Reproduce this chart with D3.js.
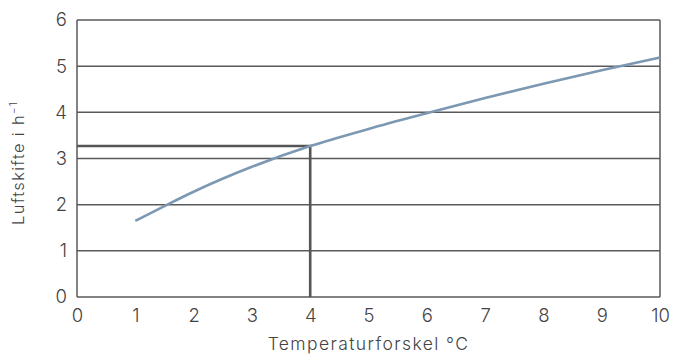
<!DOCTYPE html>
<html>
<head>
<meta charset="utf-8">
<script src="https://cdn.jsdelivr.net/npm/d3@7"></script>
<style>
  body { margin: 0; background: #fff; }
  text { font-family: Inter, "Open Sans", sans-serif; font-weight: 300; fill: #444; }
</style>
</head>
<body>
<svg id="chart"></svg>
<script>
let svgWidth = 673;
let svgHeight = 354;

// Data
let tempDiff = [1, 1.5, 2, 3, 4, 5, 6, 7, 8, 9, 10];
let airChange = [1.65, 1.97, 2.28, 2.82, 3.27, 3.64, 3.98, 4.31, 4.62, 4.91, 5.19];
let markX = 4;
let markY = 3.27;
let xTicks = [0, 1, 2, 3, 4, 5, 6, 7, 8, 9, 10];
let yTicks = [0, 1, 2, 3, 4, 5, 6];

let margin = {left: 77, right: 13, top: 20, bottom: 57};

let svg = d3.select('#chart')
            .attr('width', svgWidth)
            .attr('height', svgHeight);

let x = d3.scaleLinear().domain([0, 10]).range([margin.left, svgWidth - margin.right]);
let y = d3.scaleLinear().domain([0, 6]).range([svgHeight - margin.bottom, margin.top]);

// horizontal grid lines
svg.selectAll('.grid')
   .data(yTicks)
   .join('line')
   .attr('x1', x(0))
   .attr('x2', x(10))
   .attr('y1', d => y(d))
   .attr('y2', d => y(d))
   .attr('stroke', '#5a5a5a')
   .attr('stroke-width', 1.5);

// left and right frame
svg.selectAll('.frame')
   .data([0, 10])
   .join('line')
   .attr('x1', d => x(d))
   .attr('x2', d => x(d))
   .attr('y1', y(0))
   .attr('y2', y(6))
   .attr('stroke', '#5a5a5a')
   .attr('stroke-width', 1.5);

// axes (labels only)
let xAxis = svg.append('g')
   .attr('transform', `translate(0,${y(0)})`)
   .call(d3.axisBottom(x).tickValues(xTicks).tickSize(0).tickPadding(12).tickFormat(d3.format('d')));
let yAxis = svg.append('g')
   .attr('transform', `translate(${x(0)},0)`)
   .call(d3.axisLeft(y).tickValues(yTicks).tickSize(0).tickPadding(10).tickFormat(d3.format('d')));
[xAxis, yAxis].forEach(a => {
  a.select('.domain').remove();
  a.selectAll('text')
   .style('font-size', '18.5px')
   .style('font-family', 'Inter, sans-serif')
   .style('font-weight', 300)
   .attr('fill', '#444');
});

// reading lines at 4 °C
svg.append('path')
   .attr('d', d3.line()([[x(0), y(markY)], [x(markX), y(markY)], [x(markX), y(0)]]))
   .attr('fill', 'none')
   .attr('stroke', '#555')
   .attr('stroke-width', 2.6);

// curve
let line = d3.line()
             .x((d, i) => x(tempDiff[i]))
             .y(d => y(d))
             .curve(d3.curveMonotoneX);
svg.append('path')
   .datum(airChange)
   .attr('d', line)
   .attr('fill', 'none')
   .attr('stroke', '#7c98b2')
   .attr('stroke-width', 2.6);

// axis titles
svg.append('text')
   .attr('x', (x(0) + x(10)) / 2)
   .attr('y', 350)
   .attr('text-anchor', 'middle')
   .style('font-size', '17.5px')
   .style('letter-spacing', '1.4px')
   .text('Temperaturforskel °C');

let yTitle = svg.append('text')
   .attr('transform', `translate(24,163) rotate(-90)`)
   .attr('text-anchor', 'middle')
   .style('font-size', '16.5px')
   .style('letter-spacing', '1.3px');
yTitle.append('tspan').text('Luftskifte i h');
yTitle.append('tspan').attr('dy', -7).style('font-size', '10px').text('−1');
</script>
</body>
</html>
